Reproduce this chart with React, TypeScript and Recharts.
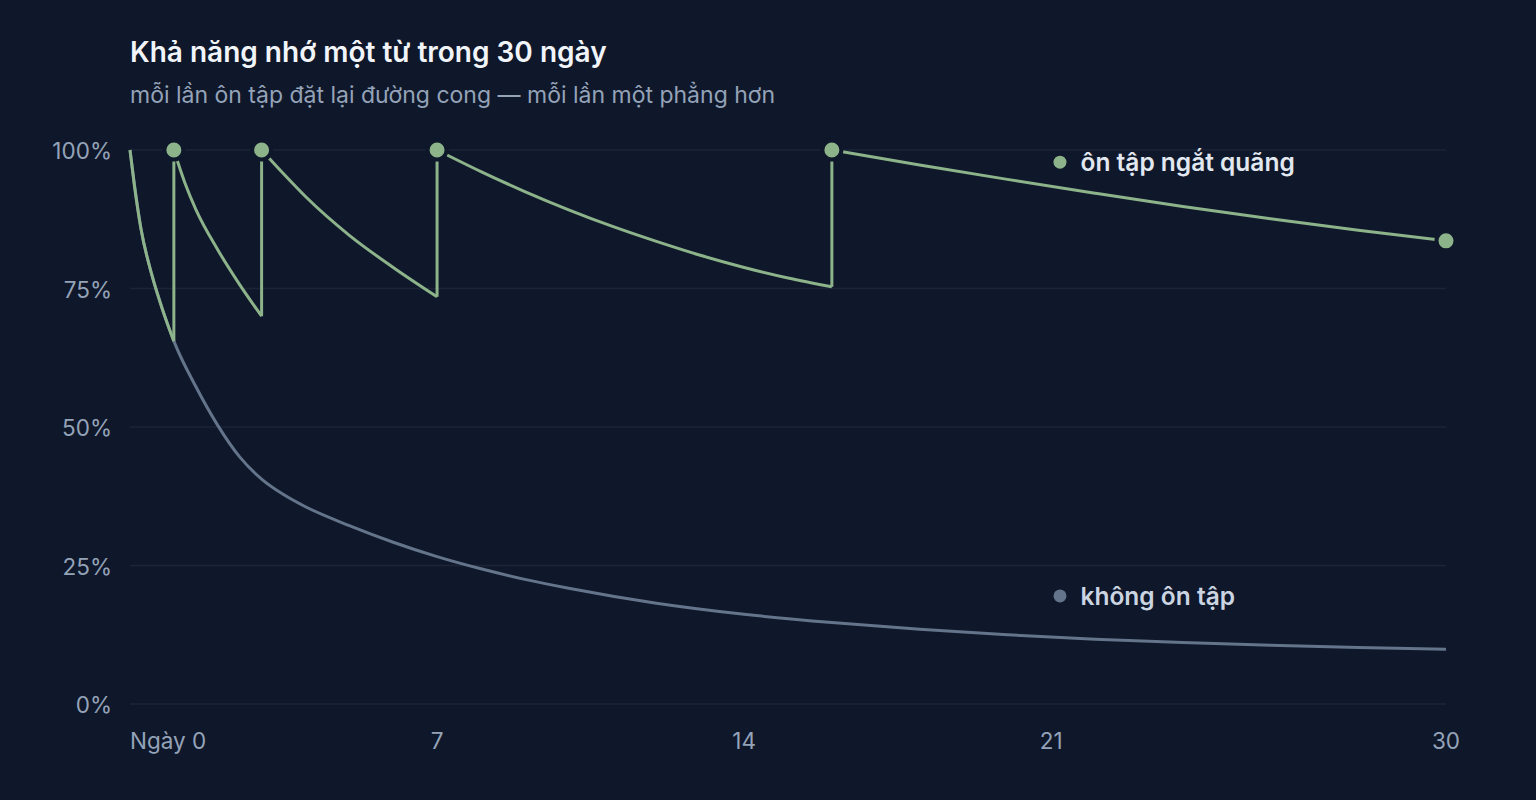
import React from 'react'
import { LineChart, Line, XAxis, YAxis, CartesianGrid, Scatter, ReferenceDot } from 'recharts'

// days since first learning the word, and recall (%) with no review at all
const noReviewDays = [0, 0.25, 0.5, 0.75, 1, 1.5, 2, 2.5, 3, 3.5, 4, 5, 6, 7, 8, 9, 10, 12, 14, 16, 18, 20, 22, 24, 26, 28, 30]
const noReviewRecall = [100, 85.8, 77.4, 71, 65.5, 57.3, 50.3, 44.6, 40.6, 37.8, 35.6, 32.2, 29.2, 26.6, 24.4, 22.5, 20.9, 18.2, 16.2, 14.7, 13.5, 12.5, 11.7, 11.1, 10.6, 10.2, 9.9]

// spaced review: each segment starts at 100% on a review day
const segmentDays = [
  [0, 0.1, 0.25, 0.5, 0.75, 1],
  [1, 1.25, 1.5, 2, 2.5, 3],
  [3, 3.5, 4, 5, 6, 7],
  [7, 8, 9, 10, 11, 12, 13, 14, 15, 16],
  [16, 18, 20, 22, 24, 26, 28, 30],
]
const segmentRecall = [
  [100, 93.6, 85.8, 77.4, 71, 65.5],
  [100, 94.1, 89.3, 82, 75.7, 70],
  [100, 95.7, 91.6, 84.6, 78.8, 73.5],
  [100, 96.1, 92.5, 89.2, 86.2, 83.5, 81, 78.8, 76.9, 75.3],
  [100, 97.3, 94.7, 92.2, 89.8, 87.6, 85.5, 83.6],
]

const xTicks = [0, 7, 14, 21, 30]
const yTicks = [0, 25, 50, 75, 100]

const labelSpaced = 'ôn tập ngắt quãng'
const labelNone = 'không ôn tập'
const labelSpacedPos = { day: 21.2, r: 97.8 }
const labelNonePos = { day: 21.2, r: 19.5 }

const BG = '#0f172a'
const GREEN = '#8db38a'
const SLATE = '#64748b'
const DIM = '#94a3b8'
const GRID = '#1c2537'
const FONT = 'Inter, "Noto Sans", sans-serif'

const noReview = noReviewDays.map((d, i) => ({ day: d, r: noReviewRecall[i] }))
const segments = segmentDays.map((days, s) => days.map((d, i) => ({ day: d, r: segmentRecall[s][i] })))
// vertical jump at each review: from the low point back up to 100%
const jumps = segments.slice(0, -1).map((seg) => {
  const last = seg[seg.length - 1]
  return [{ day: last.day, r: last.r }, { day: last.day, r: 100 }]
})
const lastSeg = segments[segments.length - 1]
const dots = [...segments.slice(1).map((seg) => seg[0]), lastSeg[lastSeg.length - 1]]

const XTick = ({ x, y, payload }: any) => {
  const first = payload.value === 0
  return (
    <text x={x} y={y} dy={37} textAnchor={first ? 'start' : 'middle'} fill={DIM} fontSize={22.5} fontFamily={FONT}>
      {first ? 'Ngày 0' : payload.value}
    </text>
  )
}

const YTick = ({ x, y, payload }: any) => (
  <text x={x} y={y} dy={9} textAnchor="end" fill={DIM} fontSize={22.5} fontFamily={FONT}>
    {payload.value}%
  </text>
)

const ReviewDot = ({ cx, cy }: any) => (
  <circle cx={cx} cy={cy} r={9.5} fill={GREEN} stroke={BG} strokeWidth={4} />
)

export default function App() {
  return (
    <div style={{ position: 'absolute', left: 0, top: 0, width: 1536, height: 800, background: BG, fontFamily: FONT, overflow: 'hidden' }}>
      <div style={{ position: 'absolute', left: 130, top: 35, fontSize: 28, lineHeight: '34px', fontWeight: 600, color: '#f1f5f9', whiteSpace: 'nowrap' }}>
        Khả năng nhớ một từ trong 30 ngày
      </div>
      <div style={{ position: 'absolute', left: 130, top: 81, fontSize: 23, lineHeight: '28px', color: DIM, whiteSpace: 'nowrap' }}>
        mỗi lần ôn tập đặt lại đường cong — mỗi lần một phẳng hơn
      </div>
      <div style={{ position: 'absolute', left: 0, top: 0 }}>
        <LineChart width={1536} height={800} margin={{ top: 150, right: 90, bottom: 56, left: 30 }}>
          <CartesianGrid vertical={false} stroke={GRID} strokeWidth={1.5} />
          <XAxis
            dataKey="day" type="number" domain={[0, 30]} ticks={xTicks}
            axisLine={false} tickLine={false} tick={<XTick />} height={40}
          />
          <YAxis
            dataKey="r" type="number" domain={[0, 100]} ticks={yTicks}
            axisLine={false} tickLine={false} tick={<YTick />} width={100} tickMargin={12}
          />
          <Line data={noReview} dataKey="r" type="monotone" stroke={SLATE} strokeWidth={3} dot={false} isAnimationActive={false} />
          {segments.map((seg, i) => (
            <Line key={'s' + i} data={seg} dataKey="r" type="monotone" stroke={GREEN} strokeWidth={3} dot={false} isAnimationActive={false} />
          ))}
          {jumps.map((j, i) => (
            <Line key={'j' + i} data={j} dataKey="r" type="linear" stroke={GREEN} strokeWidth={3} dot={false} isAnimationActive={false} />
          ))}
          <Scatter data={dots} dataKey="r" shape={<ReviewDot />} isAnimationActive={false} />
          <ReferenceDot
            x={labelSpacedPos.day} y={labelSpacedPos.r} r={6.5} fill={GREEN} stroke="none"
            label={{ value: labelSpaced, position: 'right', offset: 14, fill: '#e2e8f0', fontSize: 24.5, fontWeight: 600, fontFamily: FONT }}
          />
          <ReferenceDot
            x={labelNonePos.day} y={labelNonePos.r} r={6.5} fill={SLATE} stroke="none"
            label={{ value: labelNone, position: 'right', offset: 14, fill: '#cbd5e1', fontSize: 24.5, fontWeight: 600, fontFamily: FONT }}
          />
        </LineChart>
      </div>
    </div>
  )
}
